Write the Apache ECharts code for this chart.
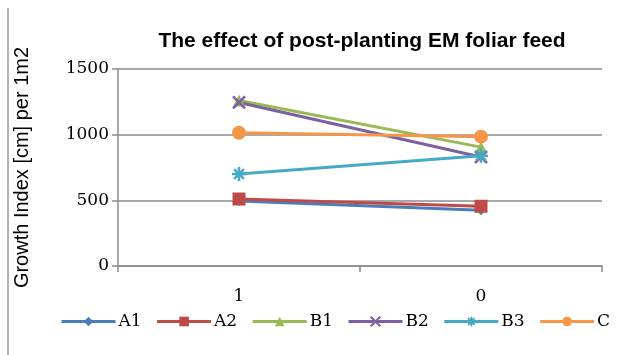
<!DOCTYPE html>
<html>
<head>
<meta charset="utf-8">
<script src="https://cdn.jsdelivr.net/npm/echarts@6/dist/echarts.min.js"></script>
<style>
  html, body { margin: 0; padding: 0; background: #ffffff; }
  #chart { width: 643px; height: 355px; }
</style>
</head>
<body>
<div id="chart"></div>
<script>
// Growth index per treatment, measured at the two timepoints shown on the x axis
const categories = ['1', '0'];
const seriesNames = ['A1', 'A2', 'B1', 'B2', 'B3', 'C'];
const valuesA1 = [495, 425];
const valuesA2 = [510, 455];
const valuesB1 = [1260, 905];
const valuesB2 = [1245, 830];
const valuesB3 = [700, 840];
const valuesC = [1015, 985];
const yTicks = [0, 500, 1000, 1500];

const seriesValues = [valuesA1, valuesA2, valuesB1, valuesB2, valuesB3, valuesC];
const colors = ['#4a7ebb', '#be4b48', '#98b954', '#7d60a0', '#46aac5', '#f79646'];
const crossPath = 'path://M0,0 L10,10 M10,0 L0,10';
const starPath = 'path://M5,0 L5,10 M0,5 L10,5 M1.5,1.5 L8.5,8.5 M8.5,1.5 L1.5,8.5';
const symbols = ['diamond', 'rect', 'triangle', crossPath, starPath, 'circle'];
const symbolSizes = [10, 13, 12, 12, 14, 14];

const chart = echarts.init(document.getElementById('chart'), null, { renderer: 'canvas' });

const series = seriesNames.map((name, i) => {
  const isStroke = i === 3 || i === 4;
  return {
    name: name,
    type: 'line',
    data: seriesValues[i],
    symbol: symbols[i],
    symbolSize: symbolSizes[i],
    showAllSymbol: true,
    lineStyle: { color: colors[i], width: 3 },
    itemStyle: isStroke
      ? { color: 'transparent', borderColor: colors[i], borderWidth: 2.5 }
      : { color: colors[i], borderWidth: 0 },
    emphasis: { disabled: true },
    animation: false
  };
});

chart.setOption({
  backgroundColor: '#ffffff',
  animation: false,
  title: {
    text: 'The effect of post-planting EM foliar feed',
    left: 357,
    top: 26,
    textAlign: 'center',
    textStyle: { fontFamily: 'Liberation Sans', fontWeight: 'bold', fontSize: 21, color: '#000000' }
  },
  legend: {
    data: seriesNames,
    left: 55,
    bottom: 20,
    itemWidth: 54,
    itemHeight: 12,
    itemGap: 14,
    lineStyle: { width: 3 },
    textStyle: { fontFamily: 'DejaVu Serif', fontSize: 17, color: '#000000', padding: [0, 0, 0, -2] }
  },
  grid: { left: 118, right: 41, top: 69, bottom: 89, containLabel: false },
  xAxis: {
    type: 'category',
    data: categories,
    boundaryGap: true,
    axisLine: { lineStyle: { color: '#8c8c8c', width: 1.5 } },
    axisTick: { show: true, length: 6, alignWithLabel: false, lineStyle: { color: '#8c8c8c', width: 1.5 } },
    axisLabel: { fontFamily: 'DejaVu Serif', fontSize: 17, color: '#000000', margin: 22 }
  },
  yAxis: {
    type: 'value',
    min: yTicks[0],
    max: yTicks[yTicks.length - 1],
    interval: 500,
    name: 'Growth Index [cm] per 1m2',
    nameLocation: 'middle',
    nameGap: 86,
    nameTextStyle: { fontFamily: 'Liberation Sans', fontSize: 20, color: '#000000' },
    axisLine: { show: true, lineStyle: { color: '#8c8c8c', width: 1.5 } },
    axisTick: { show: true, length: 6, lineStyle: { color: '#8c8c8c', width: 1.5 } },
    axisLabel: {
      fontFamily: 'DejaVu Serif', fontSize: 17, color: '#000000', margin: 9,
      formatter: (v) => String(v)
    },
    splitLine: { show: true, lineStyle: { color: '#8c8c8c', width: 1.5 } }
  },
  graphic: [
    {
      type: 'line',
      shape: { x1: 8, y1: 8, x2: 8, y2: 355 },
      style: { stroke: '#9a9a9a', lineWidth: 1.5 },
      silent: true
    }
  ],
  series: series
});
</script>
</body>
</html>
